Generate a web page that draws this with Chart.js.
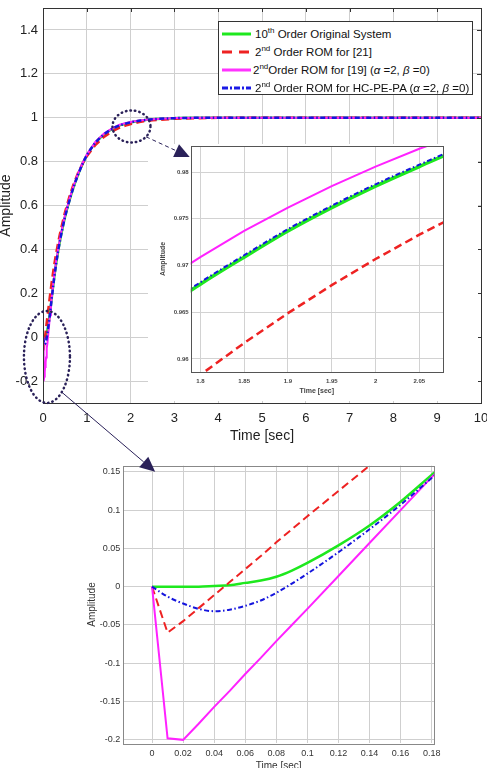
<!DOCTYPE html>
<html>
<head>
<meta charset="utf-8">
<script src="https://cdn.jsdelivr.net/npm/chart.js@4.4.1/dist/chart.umd.min.js"></script>
<style>
  html, body { margin: 0; padding: 0; background: #fff; overflow: hidden; }
  #wrap { position: relative; width: 487px; height: 768px; overflow: hidden; font-family: "Liberation Sans", Arial, sans-serif; }
  #wrap canvas { position: absolute; }
  #mainChart { left: 0; top: 0; }
  #insetChart { left: 148px; top: 144px; }
  #zoomChart { left: 60px; top: 445px; }
  #overlay { left: 0; top: 0; pointer-events: none; }
  #legend { position: absolute; left: 218px; top: 21px; width: 255px; height: 74px; box-sizing: border-box;
            border: 1px solid #333; background: #fff; font-size: 11.5px; color: #111; }
  .row { position: absolute; left: 3px; height: 16px; line-height: 16px; white-space: nowrap; }
  .row svg { position: absolute; left: 0; top: 6px; }
  .row span { position: absolute; left: 33px; top: 0; }
  sup { font-size: 8px; vertical-align: 5px; line-height: 0; }
</style>
</head>
<body>
<div id="wrap">
  <canvas id="mainChart" width="487" height="450"></canvas>
  <canvas id="insetChart" width="330" height="257"></canvas>
  <canvas id="zoomChart" width="427" height="340"></canvas>
  <canvas id="overlay" width="487" height="768"></canvas>
  <div id="legend">
    <div class="row" style="top:4px"><svg width="30" height="4"><line x1="0" y1="2" x2="29" y2="2" stroke="#1ee81e" stroke-width="3"/></svg><span>10<sup>th</sup> Order Original System</span></div>
    <div class="row" style="top:22px"><svg width="30" height="4"><line x1="0" y1="2" x2="29" y2="2" stroke="#ee2222" stroke-width="3" stroke-dasharray="10 7"/></svg><span>2<sup>nd</sup> Order ROM for [21]</span></div>
    <div class="row" style="top:40px"><svg width="30" height="4"><line x1="0" y1="2" x2="29" y2="2" stroke="#ff33ff" stroke-width="3"/></svg><span style="left:31px">2<sup>nd</sup>Order ROM for [19] (<i>α</i> =2, <i>β</i> =0)</span></div>
    <div class="row" style="top:58px"><svg width="30" height="4"><line x1="0" y1="2" x2="29" y2="2" stroke="#1a1ae6" stroke-width="3" stroke-dasharray="6 2 2 2"/></svg><span>2<sup>nd</sup> Order ROM for HC-PE-PA (<i>α</i> =2, <i>β</i> =0)</span></div>
  </div>
</div>
<script>
// step response samples
const timeSec = [0, 0.01, 0.02, 0.03, 0.04, 0.05, 0.06, 0.07, 0.08, 0.09, 0.1, 0.12, 0.14, 0.16, 0.18,
  0.2, 0.25, 0.3, 0.35, 0.4, 0.5, 0.6, 0.7, 0.8, 0.9, 1.0, 1.2, 1.4, 1.6, 1.75, 1.8, 1.85, 1.9, 1.95,
  2.0, 2.05, 2.1, 2.2, 2.3, 2.5, 3, 3.5, 4, 5, 6, 7, 8, 9, 10];
const originalSystem = [0, 0, 0, 0, 0.001, 0.002, 0.005, 0.008, 0.013, 0.021, 0.031, 0.054, 0.08, 0.111, 0.146,
  0.18, 0.262, 0.335, 0.397, 0.452, 0.545, 0.62, 0.685, 0.74, 0.788, 0.828, 0.887, 0.925, 0.951, 0.9648, 0.968, 0.9709, 0.9737, 0.9762,
  0.9785, 0.9806, 0.9826, 0.9858, 0.9887, 0.993, 0.998, 0.9995, 1, 1, 1, 1, 1, 1, 1];
const romRef21 = [0, -0.06, -0.045, -0.028, -0.011, 0.006, 0.023, 0.04, 0.058, 0.075, 0.092, 0.125, 0.158, 0.19, 0.221,
  0.253, 0.322, 0.382, 0.435, 0.483, 0.568, 0.638, 0.698, 0.748, 0.79, 0.824, 0.877, 0.914, 0.94, 0.9546, 0.9583, 0.9617, 0.9649, 0.9679,
  0.9707, 0.9733, 0.9757, 0.98, 0.9838, 0.988, 0.995, 0.998, 0.9995, 1, 1, 1, 1, 1, 1];
const romRef19 = [0, -0.198, -0.2, -0.179, -0.157, -0.136, -0.114, -0.093, -0.071, -0.05, -0.029, 0.014, 0.057, 0.1, 0.143,
  0.183, 0.27, 0.345, 0.407, 0.462, 0.553, 0.627, 0.69, 0.745, 0.792, 0.832, 0.891, 0.929, 0.954, 0.9679, 0.9709, 0.9737, 0.9762, 0.9785,
  0.9806, 0.9825, 0.9842, 0.987, 0.9895, 0.9935, 0.9985, 0.9997, 1, 1, 1, 1, 1, 1, 1];
const romHcPePa = [0, -0.013, -0.022, -0.029, -0.032, -0.03, -0.025, -0.018, -0.008, 0.004, 0.017, 0.045, 0.075, 0.107, 0.142,
  0.178, 0.26, 0.334, 0.397, 0.452, 0.545, 0.62, 0.685, 0.74, 0.788, 0.828, 0.887, 0.925, 0.951, 0.965, 0.9682, 0.9711, 0.9739, 0.9764,
  0.9787, 0.9808, 0.9828, 0.986, 0.9888, 0.993, 0.998, 0.9995, 1, 1, 1, 1, 1, 1, 1];

const mainXTicks = [0, 1, 2, 3, 4, 5, 6, 7, 8, 9, 10];
const mainYTicks = [-0.2, 0, 0.2, 0.4, 0.6, 0.8, 1, 1.2, 1.4];
const insetXTicks = [1.8, 1.85, 1.9, 1.95, 2, 2.05];
const insetYTicks = [0.96, 0.965, 0.97, 0.975, 0.98];
const zoomXTicks = [0, 0.02, 0.04, 0.06, 0.08, 0.1, 0.12, 0.14, 0.16, 0.18];
const zoomYTicks = [-0.2, -0.15, -0.1, -0.05, 0, 0.05, 0.1, 0.15];

const FONT = '"Liberation Sans", Arial, sans-serif';

function series(values) {
  return timeSec.map((t, i) => ({ x: t, y: values[i] }));
}

// lower "order" is drawn on top: blue dash-dot over magenta over red over green
function makeDatasets(w) {
  return [
    { data: series(originalSystem), borderColor: '#1ee81e', borderWidth: w.green, cubicInterpolationMode: 'monotone', order: 3 },
    { data: series(romRef21), borderColor: '#ee2222', borderWidth: w.red, borderDash: [8, 4.5], tension: 0, order: 2 },
    { data: series(romRef19), borderColor: '#ff22ff', borderWidth: w.magenta, tension: 0, order: 1 },
    { data: series(romHcPePa), borderColor: '#1515dd', borderWidth: w.blue, borderDash: [5, 2.5, 1.5, 2.5], cubicInterpolationMode: 'monotone', order: 0 },
  ];
}

function axis(o) {
  // bottom axis titles are offset by padding.bottom, left axis titles by padding.top
  const titlePadding = o.horizontal ? { top: 0, bottom: o.titlePad } : { top: o.titlePad, bottom: 0 };
  return {
    type: 'linear',
    min: o.min,
    max: o.max,
    afterBuildTicks: s => { s.ticks = o.ticks.map(v => ({ value: v })); },
    afterFit: s => {
      if (o.horizontal) s.height = o.size; else s.width = o.size;
      s.paddingLeft = s.paddingRight = s.paddingTop = s.paddingBottom = 0;
    },
    grid: { color: o.gridColor, drawTicks: false, lineWidth: 1 },
    border: { display: false },
    ticks: { font: { family: FONT, size: o.tickSize, weight: o.weight || 'normal' }, color: o.tickColor, padding: o.tickPad,
             maxRotation: 0, autoSkip: false, callback: v => String(v) },
    title: { display: true, text: o.title, color: o.tickColor,
             font: { family: FONT, size: o.titleSize, weight: o.weight || 'normal' }, padding: titlePadding },
  };
}

const framePlugin = {
  id: 'frame',
  beforeDraw(chart, args, opts) {
    if (opts.fill) {
      chart.ctx.save();
      chart.ctx.fillStyle = opts.fill;
      chart.ctx.fillRect(0, 0, chart.width, chart.height);
      chart.ctx.restore();
    }
  },
  afterDraw(chart, args, opts) {
    const a = chart.chartArea, ctx = chart.ctx;
    ctx.save();
    ctx.strokeStyle = opts.color;
    ctx.lineWidth = 1;
    ctx.strokeRect(Math.round(a.left) + 0.5, Math.round(a.top) + 0.5, Math.round(a.right - a.left), Math.round(a.bottom - a.top));
    if (opts.innerTicks) {
      ctx.beginPath();
      chart.scales.y.ticks.forEach(t => {
        const y = Math.round(chart.scales.y.getPixelForValue(t.value)) + 0.5;
        ctx.moveTo(a.right - 4, y); ctx.lineTo(a.right, y);
      });
      chart.scales.x.ticks.forEach(t => {
        const x = Math.round(chart.scales.x.getPixelForValue(t.value)) + 0.5;
        ctx.moveTo(x, a.top); ctx.lineTo(x, a.top + 4);
      });
      ctx.stroke();
    }
    ctx.restore();
  }
};

function makeChart(id, cfg) {
  return new Chart(document.getElementById(id), {
    type: 'line',
    data: { datasets: makeDatasets(cfg.widths) },
    options: {
      responsive: false,
      animation: false,
      events: [],
      layout: { padding: cfg.padding },
      elements: { point: { radius: 0 } },
      plugins: { legend: { display: false }, tooltip: { enabled: false }, frame: cfg.frame },
      scales: { x: axis(cfg.x), y: axis(cfg.y) },
    },
    plugins: [framePlugin],
  });
}

const mainChart = makeChart('mainChart', {
  widths: { green: 2.5, red: 2.5, magenta: 2, blue: 2.5 },
  padding: { left: 0, top: 8, right: 6, bottom: 0 },
  frame: { color: '#333', innerTicks: true },
  x: { horizontal: true, min: 0, max: 10, ticks: mainXTicks, size: 47, gridColor: '#cfcfcf', tickSize: 13, tickColor: '#222',
       tickPad: 8, title: 'Time [sec]', titleSize: 14, titlePad: 5.6 },
  y: { min: -0.3, max: 1.5, ticks: mainYTicks, size: 43, gridColor: '#cfcfcf', tickSize: 13, tickColor: '#222',
       tickPad: 5, title: 'Amplitude', titleSize: 14, titlePad: -2.5 },
});

const insetChart = makeChart('insetChart', {
  widths: { green: 3.5, red: 2.5, magenta: 2, blue: 2 },
  padding: { left: 0, top: 2, right: 35, bottom: 0 },
  frame: { color: '#555', fill: '#fff' },
  x: { horizontal: true, min: 1.789, max: 2.077, ticks: insetXTicks, size: 29, gridColor: '#d2d2d2', tickSize: 6, tickColor: '#444',
       tickPad: 6, title: 'Time [sec]', titleSize: 7, titlePad: 5.8, weight: 'bold' },
  y: { min: 0.9586, max: 0.9828, ticks: insetYTicks, size: 42.7, gridColor: '#d2d2d2', tickSize: 6, tickColor: '#444',
       tickPad: 2, title: 'Amplitude', titleSize: 7, titlePad: 10.8, weight: 'bold' },
});

const zoomChart = makeChart('zoomChart', {
  widths: { green: 2.5, red: 2, magenta: 2, blue: 2 },
  padding: { left: 0, top: 20.7, right: 53, bottom: 0 },
  frame: { color: '#888' },
  x: { horizontal: true, min: -0.0185, max: 0.1815, ticks: zoomXTicks, size: 41.7, gridColor: '#cfcfcf', tickSize: 9, tickColor: '#333',
       tickPad: 5, title: 'Time [sec]', titleSize: 10, titlePad: 13 },
  y: { min: -0.2045, max: 0.158, ticks: zoomYTicks, size: 63.3, gridColor: '#cfcfcf', tickSize: 9, tickColor: '#333',
       tickPad: 3, title: 'Amplitude', titleSize: 10, titlePad: 26 },
});

// dotted ellipses and arrows tying the zoomed views to the main plot
function drawAnnotations() {
  const ctx = document.getElementById('overlay').getContext('2d');
  const mx = v => mainChart.scales.x.getPixelForValue(v);
  const my = v => mainChart.scales.y.getPixelForValue(v);
  const ink = '#2a2159';

  function ellipse(cx, cy, rx, ry) {
    ctx.save();
    ctx.strokeStyle = ink;
    ctx.lineWidth = 2.5;
    ctx.lineCap = 'round';
    ctx.setLineDash([0.5, 4]);
    ctx.beginPath();
    ctx.ellipse(cx, cy, rx, ry, 0, 0, Math.PI * 2);
    ctx.stroke();
    ctx.restore();
  }

  function arrow(x0, y0, x1, y1, dash) {
    const ang = Math.atan2(y1 - y0, x1 - x0);
    const len = 15, half = 7;
    const bx = x1 - len * Math.cos(ang), by = y1 - len * Math.sin(ang);
    ctx.save();
    ctx.strokeStyle = ink;
    ctx.lineWidth = 1;
    ctx.setLineDash(dash);
    ctx.beginPath();
    ctx.moveTo(x0, y0);
    ctx.lineTo(bx, by);
    ctx.stroke();
    ctx.setLineDash([]);
    ctx.fillStyle = ink;
    ctx.beginPath();
    ctx.moveTo(x1, y1);
    ctx.lineTo(bx + half * Math.sin(ang), by - half * Math.cos(ang));
    ctx.lineTo(bx - half * Math.sin(ang), by + half * Math.cos(ang));
    ctx.closePath();
    ctx.fill();
    ctx.restore();
  }

  const e1 = { x: mx(2.02), y: my(0.96), rx: 19, ry: 16 };
  const e2 = { x: mx(0.09), y: my(-0.09), rx: 23, ry: 46 };
  ellipse(e1.x, e1.y, e1.rx, e1.ry);
  ellipse(e2.x, e2.y, e2.rx, e2.ry);

  const ia = insetChart.chartArea;
  const a1 = 40 * Math.PI / 180;
  arrow(e1.x + e1.rx * Math.cos(a1), e1.y + e1.ry * Math.sin(a1), 148 + ia.left - 1, 144 + ia.top + 11, [4, 3]);

  const za = zoomChart.chartArea;
  const a2 = 50 * Math.PI / 180;
  arrow(e2.x + e2.rx * Math.cos(a2), e2.y + e2.ry * Math.sin(a2),
        60 + zoomChart.scales.x.getPixelForValue(0.002), 445 + za.top + 6, []);
}

drawAnnotations();
</script>
</body>
</html>
